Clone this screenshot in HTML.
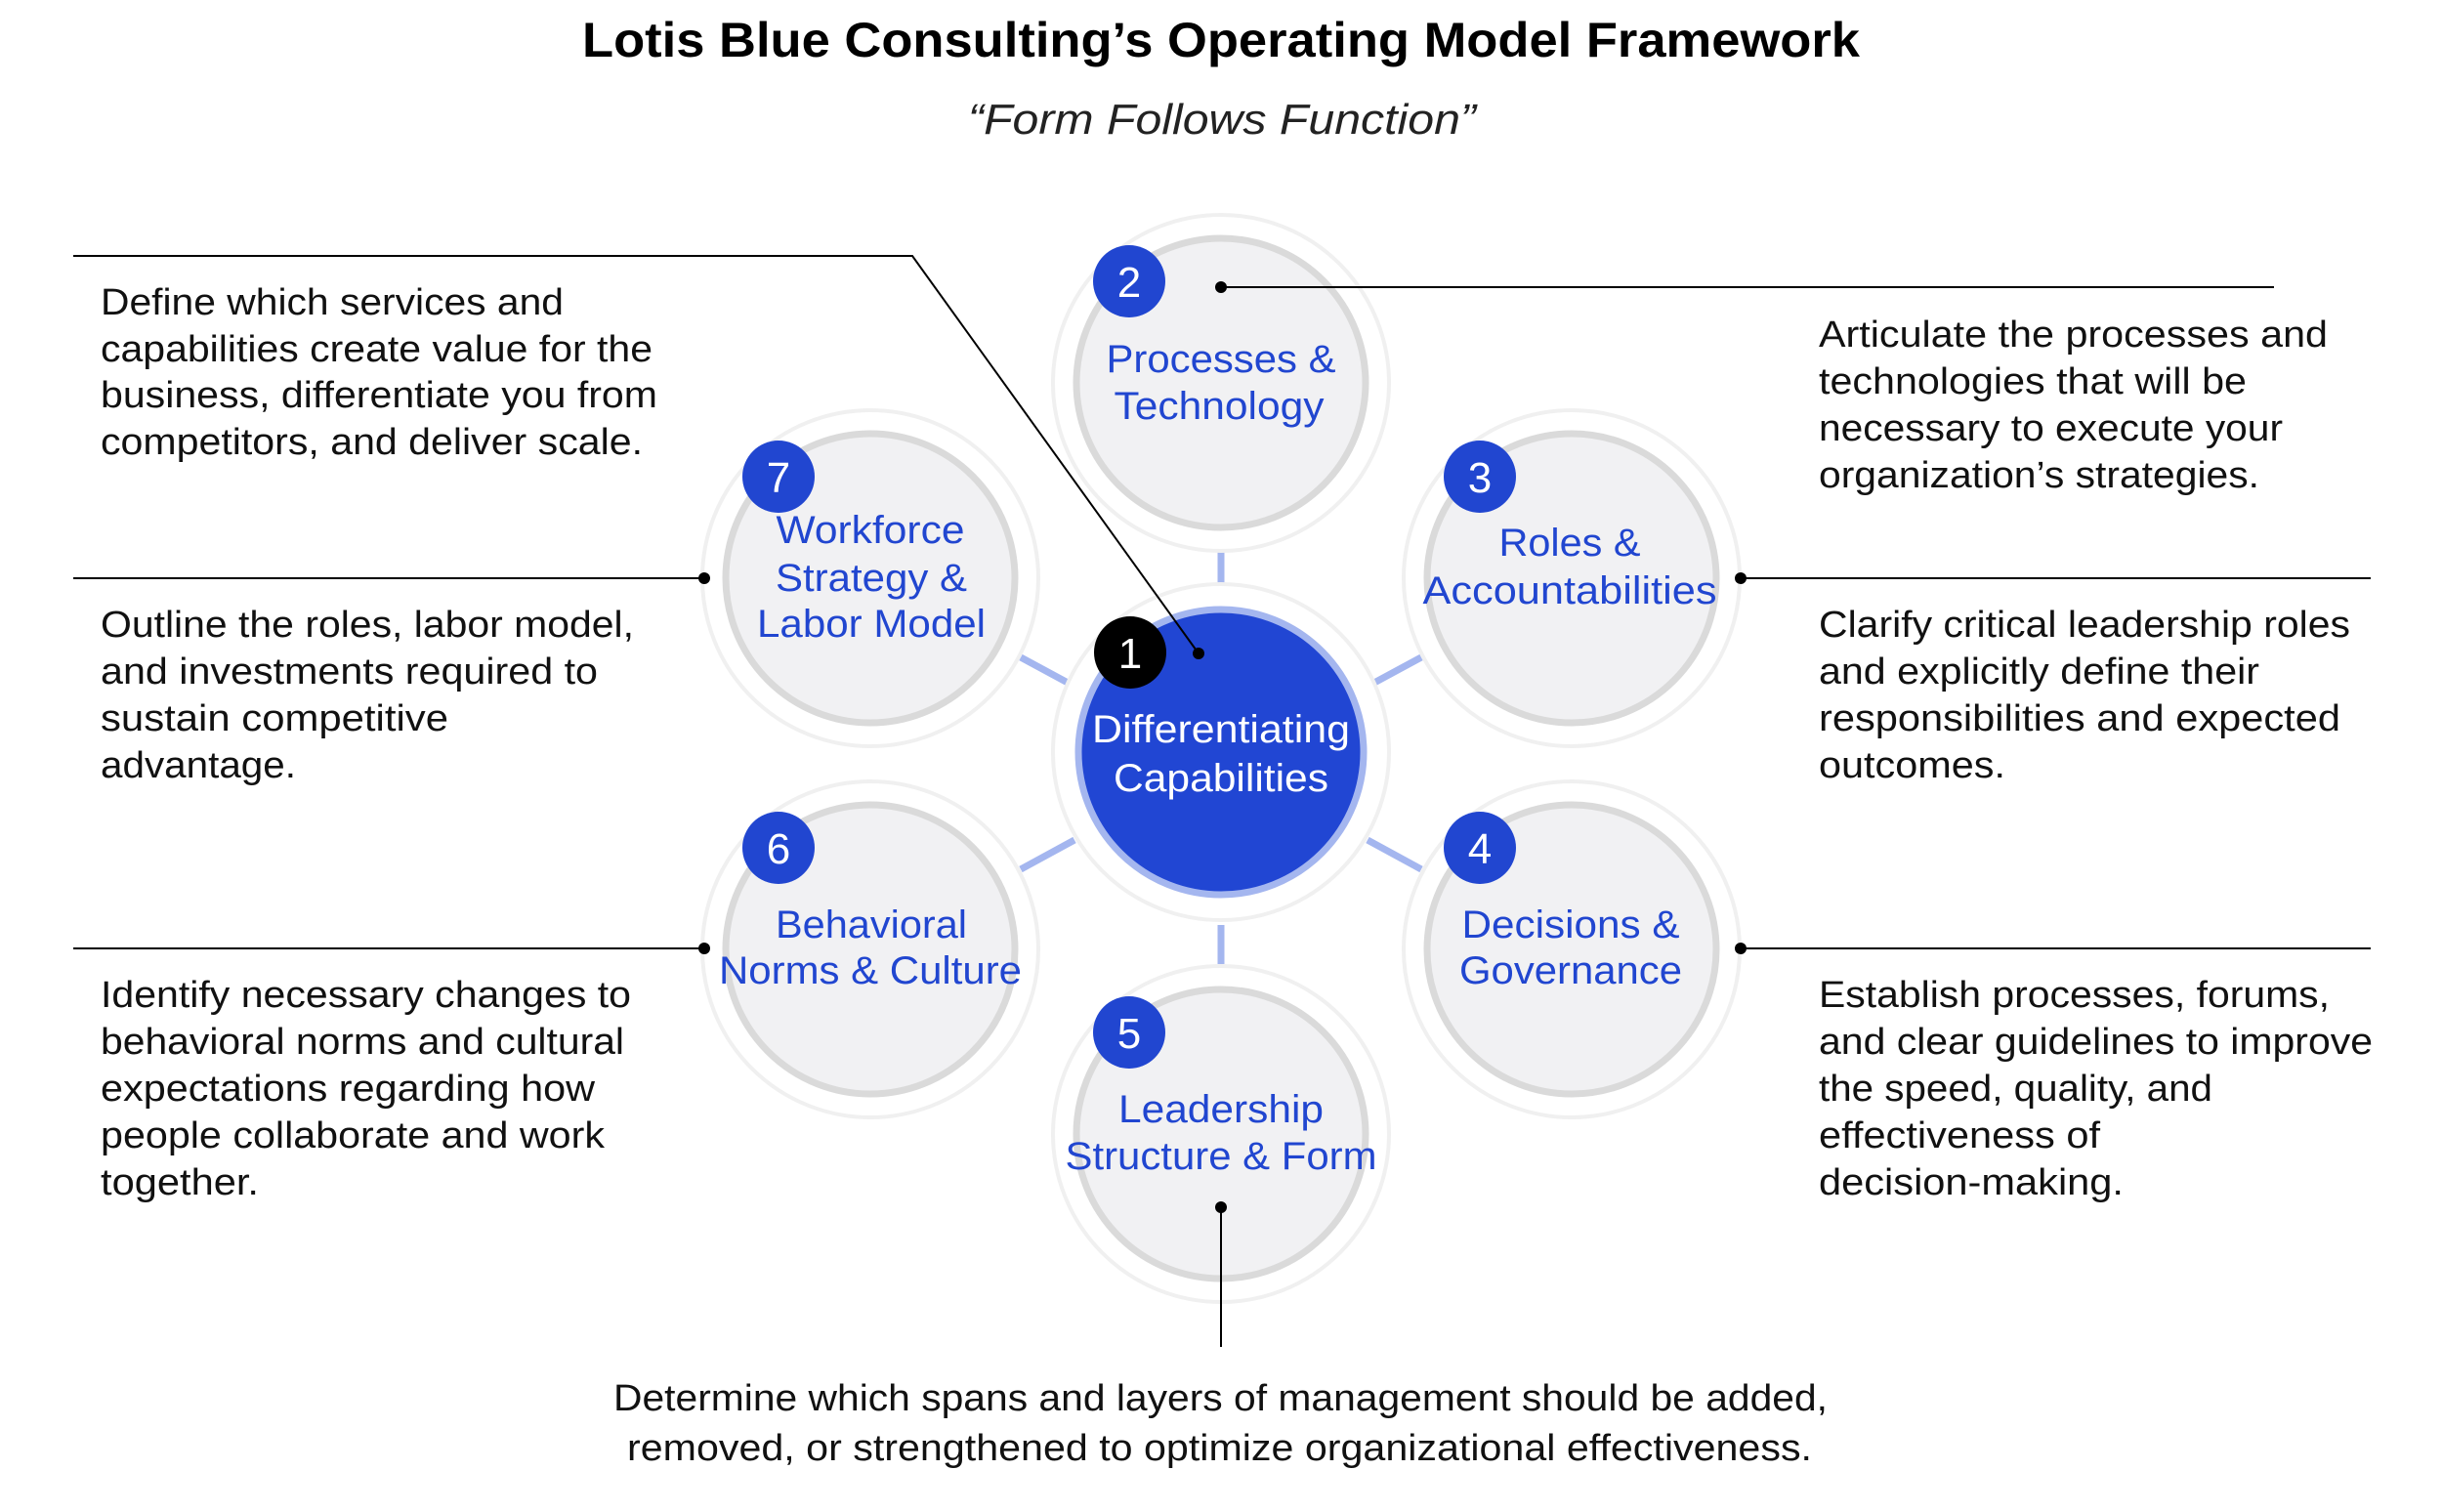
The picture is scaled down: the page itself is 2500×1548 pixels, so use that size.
<!DOCTYPE html>
<html><head><meta charset="utf-8"><style>
html,body{margin:0;padding:0;background:#fff;}
svg{display:block}
text{font-family:"Liberation Sans",Arial,sans-serif;}
.b{font-size:38px;fill:#111;}
.c{font-size:40px;fill:#2146d0;text-anchor:middle;}
.n{font-size:44px;fill:#fff;text-anchor:middle;}
</style></head><body>
<svg width="2500" height="1548" viewBox="0 0 2500 1548" xmlns="http://www.w3.org/2000/svg">
<rect width="2500" height="1548" fill="#fff"/>
<text x="596" y="58" font-size="50" font-weight="bold" fill="#000" textLength="1308" lengthAdjust="spacingAndGlyphs">Lotis Blue Consulting’s Operating Model Framework</text>
<text x="991" y="137" font-size="44" font-style="italic" fill="#222" textLength="520" lengthAdjust="spacingAndGlyphs">“Form Follows Function”</text>

<!-- spokes -->
<g stroke="#a4b6ef" stroke-width="7">
<line x1="1250" y1="565" x2="1250" y2="600"/>
<line x1="1250" y1="947" x2="1250" y2="987"/>
<line x1="1405" y1="700" x2="1455" y2="673"/>
<line x1="1400" y1="860" x2="1455" y2="890"/>
<line x1="1095" y1="700" x2="1045" y2="673"/>
<line x1="1100" y1="860" x2="1045" y2="890"/>
</g>

<!-- satellites -->
<g>
<circle cx="1250" cy="392" r="172" fill="#fff" stroke="#f0f0f0" stroke-width="4"/>
<circle cx="1250" cy="392" r="148" fill="#f1f1f3" stroke="#dadada" stroke-width="7"/>
<circle cx="1609" cy="592" r="172" fill="#fff" stroke="#f0f0f0" stroke-width="4"/>
<circle cx="1609" cy="592" r="148" fill="#f1f1f3" stroke="#dadada" stroke-width="7"/>
<circle cx="891" cy="592" r="172" fill="#fff" stroke="#f0f0f0" stroke-width="4"/>
<circle cx="891" cy="592" r="148" fill="#f1f1f3" stroke="#dadada" stroke-width="7"/>
<circle cx="1609" cy="972" r="172" fill="#fff" stroke="#f0f0f0" stroke-width="4"/>
<circle cx="1609" cy="972" r="148" fill="#f1f1f3" stroke="#dadada" stroke-width="7"/>
<circle cx="891" cy="972" r="172" fill="#fff" stroke="#f0f0f0" stroke-width="4"/>
<circle cx="891" cy="972" r="148" fill="#f1f1f3" stroke="#dadada" stroke-width="7"/>
<circle cx="1250" cy="1161" r="172" fill="#fff" stroke="#f0f0f0" stroke-width="4"/>
<circle cx="1250" cy="1161" r="148" fill="#f1f1f3" stroke="#dadada" stroke-width="7"/>
</g>
<!-- center -->
<circle cx="1250" cy="770" r="172" fill="#fff" stroke="#f0f0f0" stroke-width="4"/>
<circle cx="1250" cy="770" r="146" fill="#2146d3" stroke="#a4b6ef" stroke-width="7"/>

<!-- badges -->
<circle cx="1157" cy="668" r="37" fill="#000"/><text class="n" x="1157" y="684">1</text>
<circle cx="1156" cy="288" r="37" fill="#2146d0"/><text class="n" x="1156" y="304">2</text>
<circle cx="1515" cy="488" r="37" fill="#2146d0"/><text class="n" x="1515" y="504">3</text>
<circle cx="1515" cy="868" r="37" fill="#2146d0"/><text class="n" x="1515" y="884">4</text>
<circle cx="1156" cy="1057" r="37" fill="#2146d0"/><text class="n" x="1156" y="1073">5</text>
<circle cx="797" cy="868" r="37" fill="#2146d0"/><text class="n" x="797" y="884">6</text>
<circle cx="797" cy="488" r="37" fill="#2146d0"/><text class="n" x="797" y="504">7</text>

<!-- circle labels -->
<text x="1118" y="760" font-size="40" fill="#fff" textLength="264" lengthAdjust="spacingAndGlyphs">Differentiating</text>
<text x="1140" y="810" font-size="40" fill="#fff" textLength="220" lengthAdjust="spacingAndGlyphs">Capabilities</text>
<text class="c" x="1250" y="381" textLength="235" lengthAdjust="spacingAndGlyphs">Processes &amp;</text>
<text class="c" x="1248" y="429" textLength="215" lengthAdjust="spacingAndGlyphs">Technology</text>
<text class="c" x="1607" y="569" textLength="145" lengthAdjust="spacingAndGlyphs">Roles &amp;</text>
<text class="c" x="1607" y="618" textLength="301" lengthAdjust="spacingAndGlyphs">Accountabilities</text>
<text class="c" x="891" y="556" textLength="193" lengthAdjust="spacingAndGlyphs">Workforce</text>
<text class="c" x="892" y="605" textLength="196" lengthAdjust="spacingAndGlyphs">Strategy &amp;</text>
<text class="c" x="892" y="652" textLength="234" lengthAdjust="spacingAndGlyphs">Labor Model</text>
<text class="c" x="1608" y="960" textLength="223" lengthAdjust="spacingAndGlyphs">Decisions &amp;</text>
<text class="c" x="1608" y="1007" textLength="228" lengthAdjust="spacingAndGlyphs">Governance</text>
<text class="c" x="892" y="960" textLength="196" lengthAdjust="spacingAndGlyphs">Behavioral</text>
<text class="c" x="891" y="1007" textLength="310" lengthAdjust="spacingAndGlyphs">Norms &amp; Culture</text>
<text class="c" x="1250" y="1149" textLength="210" lengthAdjust="spacingAndGlyphs">Leadership</text>
<text class="c" x="1250" y="1197" textLength="319" lengthAdjust="spacingAndGlyphs">Structure &amp; Form</text>

<!-- connectors -->
<g stroke="#000" stroke-width="2" fill="none">
<polyline points="75,262 934,262 1227,669"/>
<line x1="1250" y1="294" x2="2328" y2="294"/>
<line x1="1782" y1="592" x2="2427" y2="592"/>
<line x1="75" y1="592" x2="721" y2="592"/>
<line x1="75" y1="971" x2="721" y2="971"/>
<line x1="1782" y1="971" x2="2427" y2="971"/>
<line x1="1250" y1="1236" x2="1250" y2="1379"/>
</g>
<g fill="#000">
<circle cx="1227" cy="669" r="6"/>
<circle cx="1250" cy="294" r="6"/>
<circle cx="1782" cy="592" r="6"/>
<circle cx="721" cy="592" r="6"/>
<circle cx="721" cy="971" r="6"/>
<circle cx="1782" cy="971" r="6"/>
<circle cx="1250" cy="1236" r="6"/>
</g>

<!-- paragraphs -->
<g class="b">
<text class="b" x="103" y="322" textLength="474" lengthAdjust="spacingAndGlyphs">Define which services and</text>
<text class="b" x="103" y="370" textLength="565" lengthAdjust="spacingAndGlyphs">capabilities create value for the</text>
<text class="b" x="103" y="417" textLength="570" lengthAdjust="spacingAndGlyphs">business, differentiate you from</text>
<text class="b" x="103" y="465" textLength="555" lengthAdjust="spacingAndGlyphs">competitors, and deliver scale.</text>

<text class="b" x="103" y="652" textLength="546" lengthAdjust="spacingAndGlyphs">Outline the roles, labor model,</text>
<text class="b" x="103" y="700" textLength="509" lengthAdjust="spacingAndGlyphs">and investments required to</text>
<text class="b" x="103" y="748" textLength="356" lengthAdjust="spacingAndGlyphs">sustain competitive</text>
<text class="b" x="103" y="796" textLength="200" lengthAdjust="spacingAndGlyphs">advantage.</text>

<text class="b" x="103" y="1031" textLength="543" lengthAdjust="spacingAndGlyphs">Identify necessary changes to</text>
<text class="b" x="103" y="1079" textLength="536" lengthAdjust="spacingAndGlyphs">behavioral norms and cultural</text>
<text class="b" x="103" y="1127" textLength="506" lengthAdjust="spacingAndGlyphs">expectations regarding how</text>
<text class="b" x="103" y="1175" textLength="516" lengthAdjust="spacingAndGlyphs">people collaborate and work</text>
<text class="b" x="103" y="1223" textLength="162" lengthAdjust="spacingAndGlyphs">together.</text>

<text class="b" x="1862" y="355" textLength="521" lengthAdjust="spacingAndGlyphs">Articulate the processes and</text>
<text class="b" x="1862" y="403" textLength="438" lengthAdjust="spacingAndGlyphs">technologies that will be</text>
<text class="b" x="1862" y="451" textLength="475" lengthAdjust="spacingAndGlyphs">necessary to execute your</text>
<text class="b" x="1862" y="499" textLength="451" lengthAdjust="spacingAndGlyphs">organization’s strategies.</text>

<text class="b" x="1862" y="652" textLength="544" lengthAdjust="spacingAndGlyphs">Clarify critical leadership roles</text>
<text class="b" x="1862" y="700" textLength="451" lengthAdjust="spacingAndGlyphs">and explicitly define their</text>
<text class="b" x="1862" y="748" textLength="534" lengthAdjust="spacingAndGlyphs">responsibilities and expected</text>
<text class="b" x="1862" y="796" textLength="191" lengthAdjust="spacingAndGlyphs">outcomes.</text>

<text class="b" x="1862" y="1031" textLength="523" lengthAdjust="spacingAndGlyphs">Establish processes, forums,</text>
<text class="b" x="1862" y="1079" textLength="567" lengthAdjust="spacingAndGlyphs">and clear guidelines to improve</text>
<text class="b" x="1862" y="1127" textLength="403" lengthAdjust="spacingAndGlyphs">the speed, quality, and</text>
<text class="b" x="1862" y="1175" textLength="288" lengthAdjust="spacingAndGlyphs">effectiveness of</text>
<text class="b" x="1862" y="1223" textLength="312" lengthAdjust="spacingAndGlyphs">decision-making.</text>

<text class="b" x="628" y="1444" textLength="1243" lengthAdjust="spacingAndGlyphs">Determine which spans and layers of management should be added,</text>
<text class="b" x="642" y="1495" textLength="1213" lengthAdjust="spacingAndGlyphs">removed, or strengthened to optimize organizational effectiveness.</text>
</g>
</svg>
</body></html>
